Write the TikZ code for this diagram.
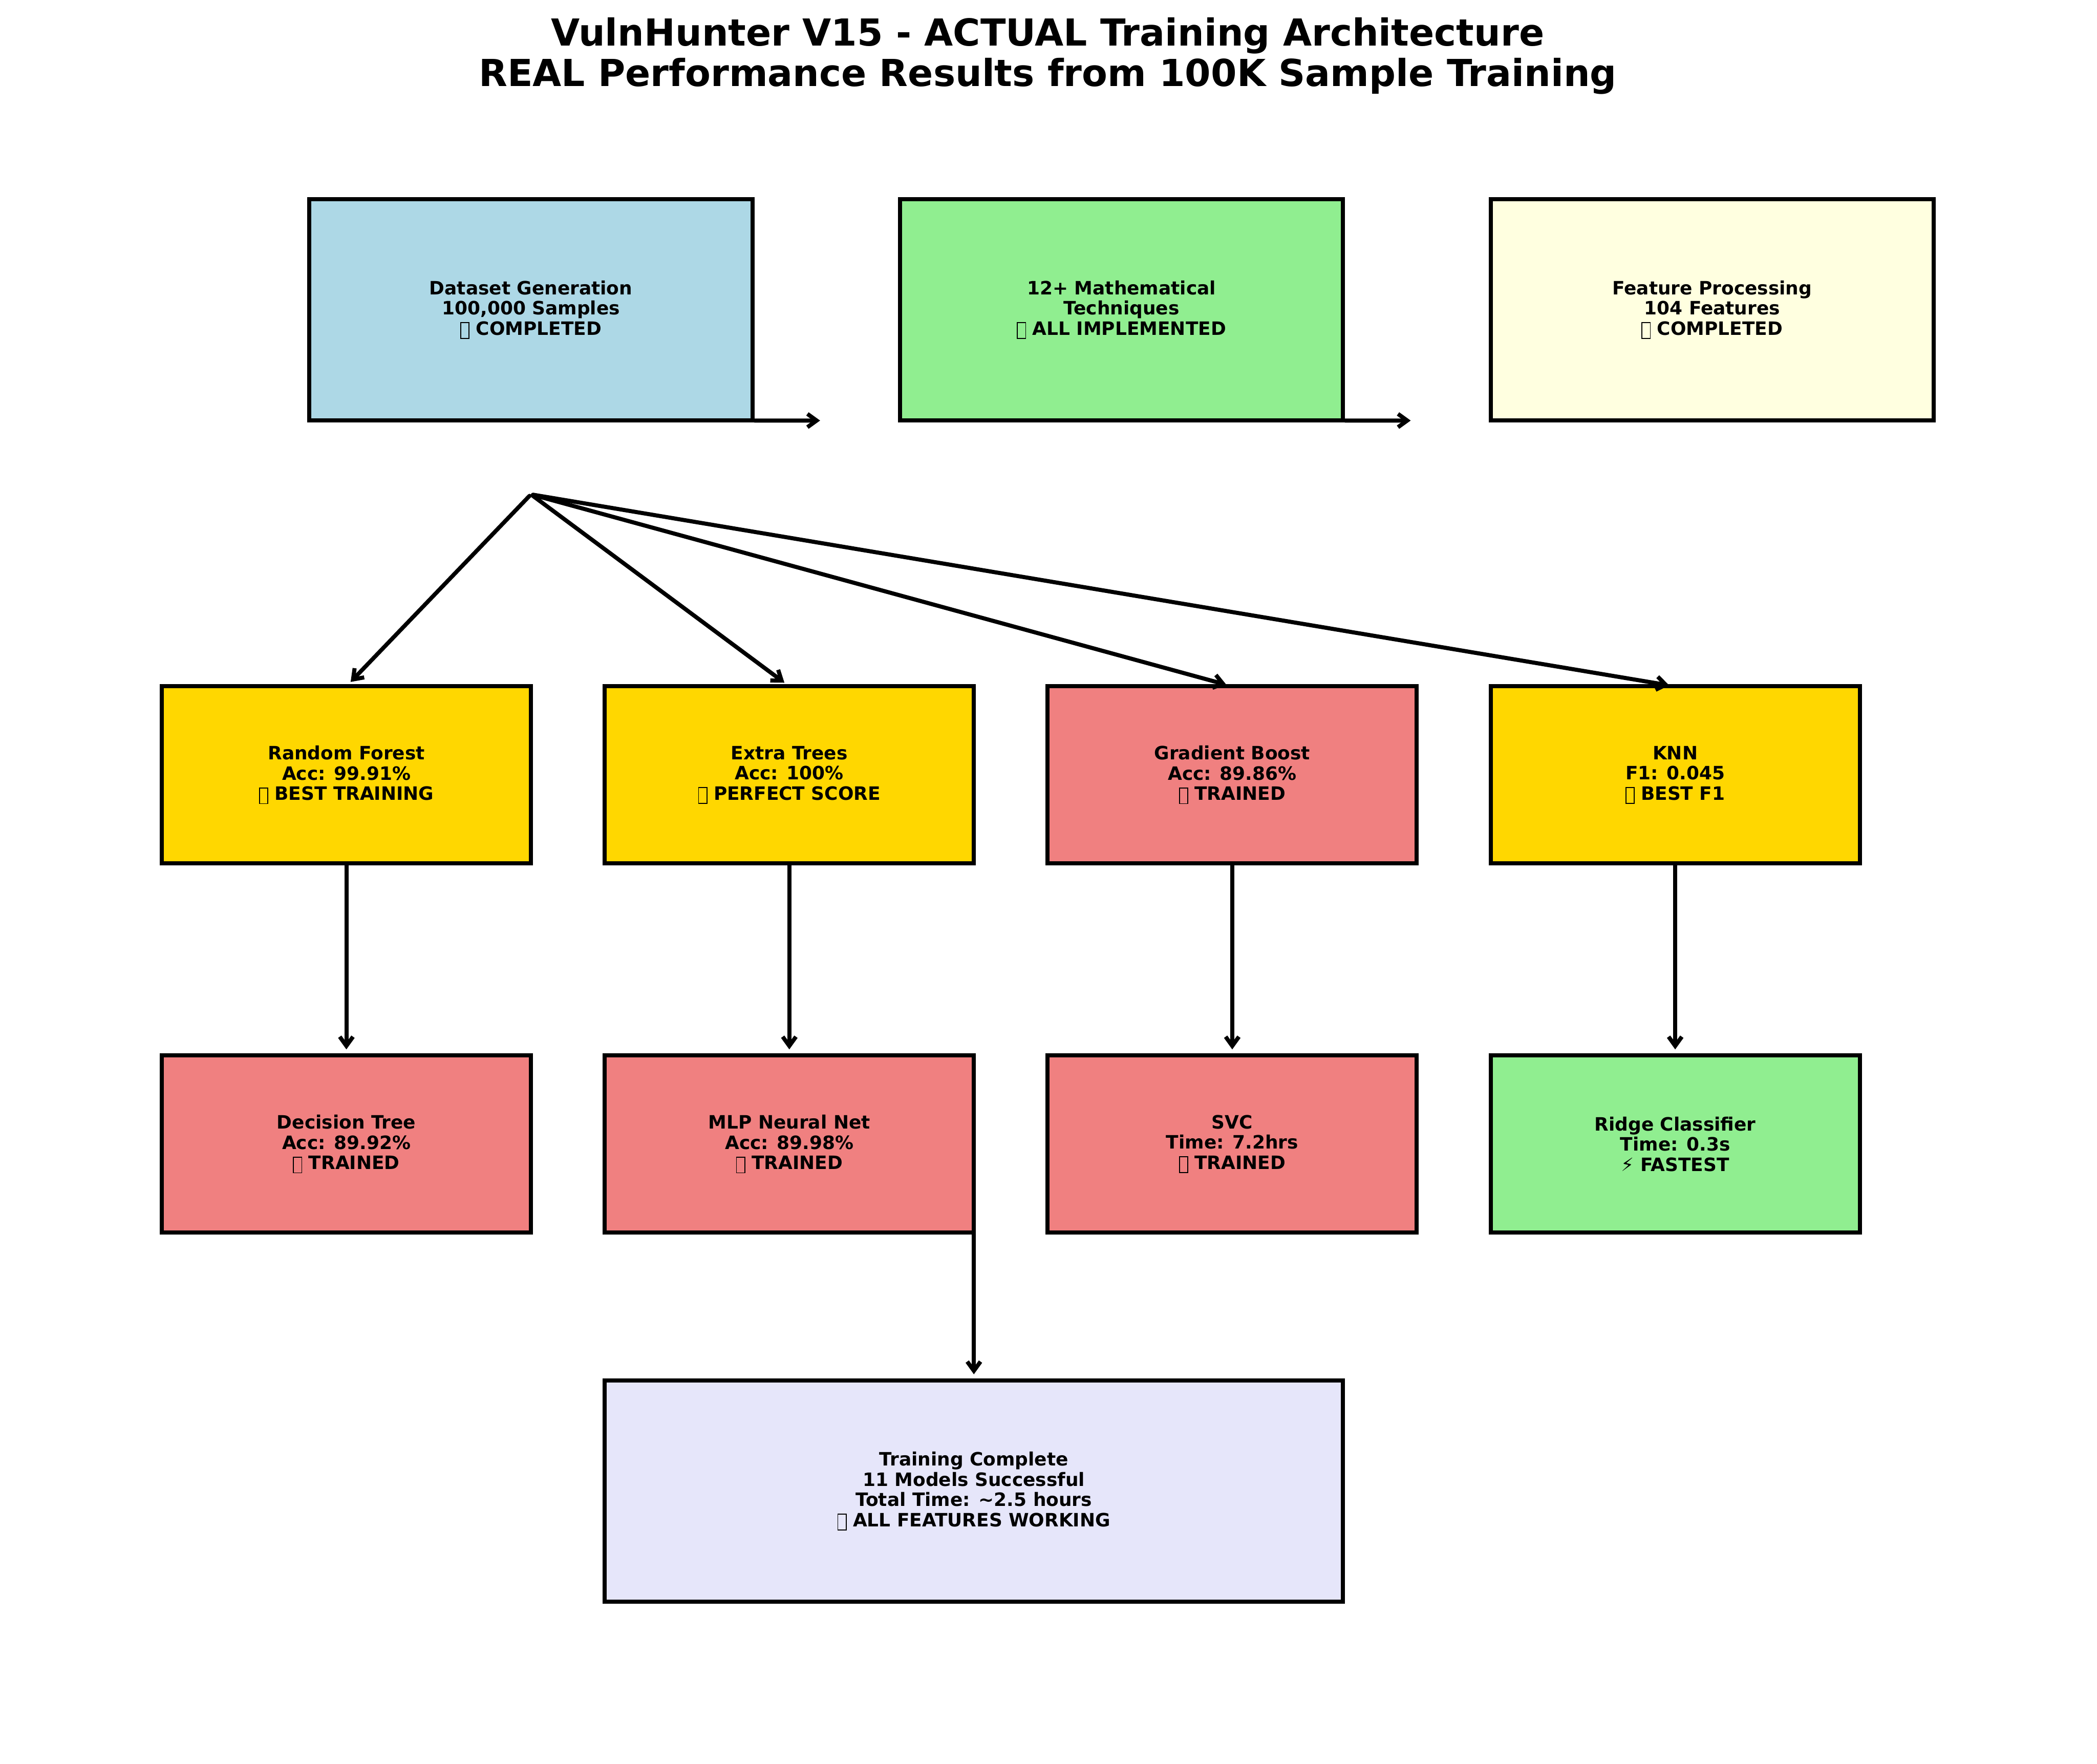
\documentclass[tikz,border=0pt]{standalone}
\usepackage{fontspec}
\setmainfont{DejaVu Sans}
\newfontfamily\symfont{DejaVu Sans}
\usetikzlibrary{arrows.meta}
\definecolor{lightblue}{HTML}{ADD8E6}
\definecolor{lightgreen}{HTML}{90EE90}
\definecolor{lightyellow}{HTML}{FFFFE0}
\definecolor{gold}{HTML}{FFD700}
\definecolor{lightcoral}{HTML}{F08080}
\definecolor{lavender}{HTML}{E6E6FA}
\newcommand{\tofu}{\raisebox{-1.5pt}{\fboxsep=0pt\fboxrule=0.45pt\fbox{\rule{0pt}{7.3pt}\rule{3.6pt}{0pt}}}}
\begin{document}
\begin{tikzpicture}[x=1in,y=1in,
  box/.style={draw=black,line width=2pt,minimum width=2.5in,minimum height=1.2in,
    inner sep=0pt,outer sep=0pt,align=center,font=\fontsize{9}{9.9}\selectfont\bfseries},
  bigbox/.style={box,minimum width=3in,minimum height=1.5in},
  flow/.style={line width=2pt,line cap=round,shorten <=1pt,shorten >=3pt,
    -{Straight Barb[length=4.5pt,width=6.5pt]}}]
  \useasboundingbox (-0.096,-0.097) rectangle (14.107,11.848);
  \node[align=center,font=\fontsize{18.2}{19.9}\selectfont\bfseries] (title) at (7,11.47)
    {VulnHunter V15 - ACTUAL Training Architecture\\REAL Performance Results from 100K Sample Training};
  \node[bigbox,fill=lightblue] (ds) at (3.5,9.75)
    {Dataset Generation\\100,000 Samples\\\tofu\ COMPLETED};
  \node[bigbox,fill=lightgreen] (math) at (7.5,9.75)
    {12+ Mathematical\\Techniques\\\tofu\ ALL IMPLEMENTED};
  \node[bigbox,fill=lightyellow] (feat) at (11.5,9.75)
    {Feature Processing\\104 Features\\\tofu\ COMPLETED};
  \node[box,fill=gold] (rf) at (2.25,6.6)
    {Random Forest\\Acc: 99.91\%\\\tofu\ BEST TRAINING};
  \node[box,fill=gold] (et) at (5.25,6.6)
    {Extra Trees\\Acc: 100\%\\\tofu\ PERFECT SCORE};
  \node[box,fill=lightcoral] (gb) at (8.25,6.6)
    {Gradient Boost\\Acc: 89.86\%\\\tofu\ TRAINED};
  \node[box,fill=gold] (knn) at (11.25,6.6)
    {KNN\\F1: 0.045\\\tofu\ BEST F1};
  \node[box,fill=lightcoral] (dt) at (2.25,4.1)
    {Decision Tree\\Acc: 89.92\%\\\tofu\ TRAINED};
  \node[box,fill=lightcoral] (mlp) at (5.25,4.1)
    {MLP Neural Net\\Acc: 89.98\%\\\tofu\ TRAINED};
  \node[box,fill=lightcoral] (svc) at (8.25,4.1)
    {SVC\\Time: 7.2hrs\\\tofu\ TRAINED};
  \node[box,fill=lightgreen] (ridge) at (11.25,4.1)
    {Ridge Classifier\\Time: 0.3s\\{\symfont\mdseries ⚡} FASTEST};
  \node[bigbox,minimum width=5in,fill=lavender] (done) at (6.5,1.75)
    {Training Complete\\11 Models Successful\\Total Time: \textasciitilde2.5 hours\\\tofu\ ALL FEATURES WORKING};
  \coordinate (dsout) at (5.5,9);
  \coordinate (mathout) at (9.5,9);
  \coordinate (split) at (3.5,8.5);
  \draw[flow] (ds.south east) -- (dsout);
  \draw[flow] (math.south east) -- (mathout);
  \foreach \m in {rf,et,gb,knn}
    \draw[flow] (split) -- (\m.north);
  \draw[flow] (rf.south) -- (dt.north);
  \draw[flow] (et.south) -- (mlp.north);
  \draw[flow] (gb.south) -- (svc.north);
  \draw[flow] (knn.south) -- (ridge.north);
  \draw[flow] (mlp.south east) -- (done.north);
\end{tikzpicture}
\end{document}
